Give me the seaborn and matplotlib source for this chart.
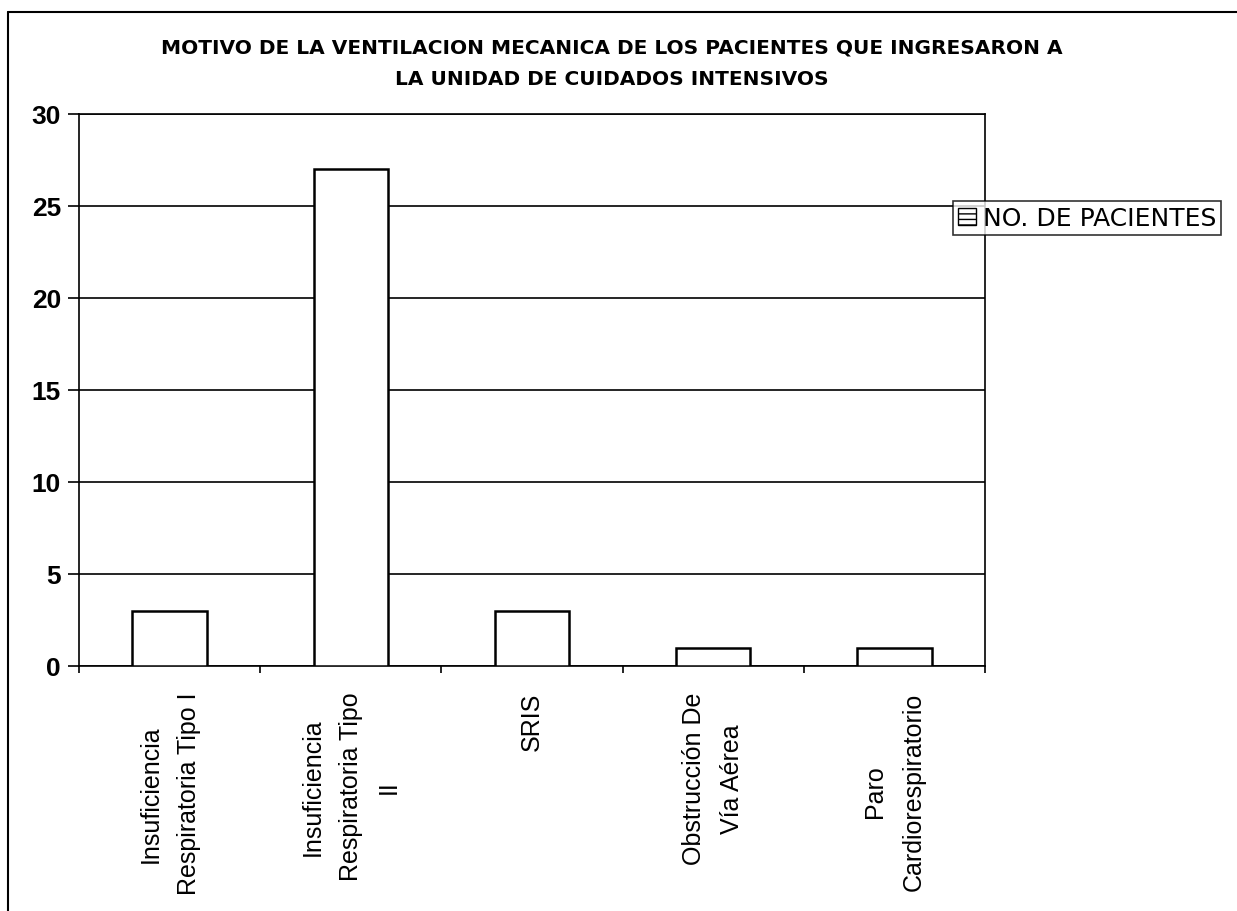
import pandas as pd
import seaborn as sns
import matplotlib.pyplot as plt
from matplotlib.patches import Patch
from matplotlib.lines import Line2D

motivos = ["Insuficiencia\nRespiratoria Tipo I",
           "Insuficiencia\nRespiratoria Tipo\nII",
           "SRIS",
           "Obstrucción De\nVía Aérea",
           "Paro\nCardiorespiratorio"]
pacientes = [3, 27, 3, 1, 1]
serie = "NO. DE PACIENTES"
titulo = ("MOTIVO DE LA VENTILACION MECANICA DE LOS PACIENTES QUE INGRESARON A\n"
          "LA UNIDAD DE CUIDADOS INTENSIVOS")

df = pd.DataFrame({"motivo": motivos, "n": pacientes})

sns.set_style("white")
plt.rcParams['font.family'] = ['Liberation Sans', 'DejaVu Sans']
plt.rcParams['text.color'] = 'black'
plt.rcParams['xtick.color'] = 'black'
plt.rcParams['ytick.color'] = 'black'

fig = plt.figure(figsize=(12.37, 9.12), dpi=100)
ax = fig.add_axes([79 / 1237, 1 - 667 / 912, 906 / 1237, 552 / 912])

sns.barplot(data=df, x="motivo", y="n", color="white", edgecolor="black",
            linewidth=1.8, width=0.41, ax=ax, zorder=3)

ax.set_ylim(0, 30)
ax.set_yticks(range(0, 31, 5))
ax.set_xlim(-0.5, len(motivos) - 0.5)
ax.yaxis.grid(True, color="black", linewidth=1.2, zorder=0)
ax.set_axisbelow(True)
for s in ax.spines.values():
    s.set_color("black")
    s.set_linewidth(1.2)

ax.set_xlabel("")
ax.set_ylabel("")
ax.tick_params(axis="y", left=True, length=8, width=1.2, color="black",
               labelsize=19, pad=5, labelcolor="black")
for t in ax.get_yticklabels():
    t.set_fontweight("bold")
ax.tick_params(axis="x", bottom=False, labelsize=18, pad=15,
               labelcolor="black")
ax.set_xticks(range(len(motivos)))
ax.set_xticklabels(motivos, rotation=90, multialignment="center",
                   linespacing=1.75)
ax.set_xticks([i - 0.5 for i in range(len(motivos) + 1)], minor=True)
ax.tick_params(axis="x", which="minor", bottom=True, length=5, width=1.2)

fig.text(612 / 1237, 1 - 38 / 912, titulo, ha="center", va="top",
         fontsize=14.5, fontweight="bold", linespacing=1.85,
         family="DejaVu Sans", color="black")

handle = Patch(facecolor="white", edgecolor="black", hatch="---", label=serie)
leg = fig.legend(handles=[handle], loc="upper left",
                 bbox_to_anchor=(953 / 1237, 1 - 202 / 912),
                 prop={"family": "DejaVu Sans", "size": 18},
                 frameon=True, fancybox=False, handlelength=0.7,
                 handleheight=0.7, handletextpad=0.3, borderpad=0.2,
                 borderaxespad=0)
leg.get_frame().set_edgecolor("black")
leg.get_frame().set_linewidth(1.2)
for t in leg.get_texts():
    t.set_color("black")

fig.add_artist(Line2D([8 / 1237, 8 / 1237], [0, 1 - 13 / 912],
                      transform=fig.transFigure, color="black", linewidth=1.5))
fig.add_artist(Line2D([8 / 1237, 1], [1 - 13 / 912, 1 - 13 / 912],
                      transform=fig.transFigure, color="black", linewidth=1.5))

fig.savefig("out.png", dpi=100)
